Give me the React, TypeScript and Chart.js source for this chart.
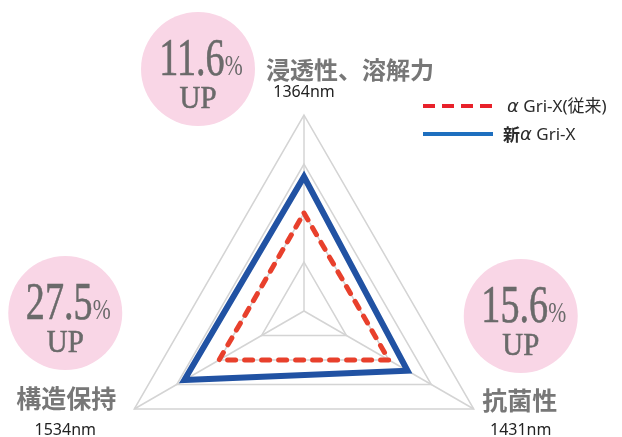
import React, { useEffect, useRef } from "react";
import { Chart, registerables } from "chart.js";

Chart.register(...registerables);

// ---- data ----
const categories = ["浸透性、溶解力", "抗菌性", "構造保持"];
const wavelengths = ["1364nm", "1431nm", "1534nm"];
const improvements = ["11.6", "15.6", "27.5"];
const seriesLabels = ["α Gri-X(従来)", "新α Gri-X"];
const conventional = [100, 100, 100];
const improved = [137, 122, 141];
const scaleMin = 0;
const scaleMax = 200;
const scaleStep = 50;

// ---- layout (offsets relative to each outer vertex) ----
const labelOffsets = [
  { circle: [-106, -46], cat: [46, -36], nm: [0, -18], catSize: 24 },
  { circle: [47, -93], cat: [46, 1], nm: [47, 26], catSize: 25 },
  { circle: [-69, -96], cat: [-68, -1], nm: [-69, 26], catSize: 25 },
];

const GRAY = "#6a6a6a";
const PINK = "#f9d6e6";
const RED = "#e8402c";
const BLUE = "#2152a3";

const overlayPlugin = {
  id: "overlay",
  afterDraw(chart: any) {
    const ctx = chart.ctx as CanvasRenderingContext2D;
    const scale = chart.scales.r;
    categories.forEach((cat, i) => {
      const p = scale.getPointPositionForValue(i, scaleMax);
      const o = labelOffsets[i];
      const cx = p.x + o.circle[0];
      const cy = p.y + o.circle[1];
      ctx.save();
      ctx.fillStyle = PINK;
      ctx.beginPath();
      ctx.arc(cx, cy, 57, 0, Math.PI * 2);
      ctx.fill();
      // percentage
      const sx = 0.72;
      ctx.fillStyle = GRAY;
      ctx.strokeStyle = GRAY;
      ctx.lineWidth = 0.6;
      ctx.textBaseline = "alphabetic";
      ctx.textAlign = "left";
      ctx.font = "53px 'Liberation Serif'";
      const dw = ctx.measureText(improvements[i]).width * sx;
      ctx.font = "30px 'Liberation Serif'";
      const pw = ctx.measureText("%").width * sx;
      const startX = cx + 3 - (dw + pw) / 2;
      ctx.save();
      ctx.translate(startX, cy + 6);
      ctx.scale(sx, 1);
      ctx.font = "53px 'Liberation Serif'";
      ctx.fillText(improvements[i], 0, 0);
      ctx.strokeText(improvements[i], 0, 0);
      ctx.font = "30px 'Liberation Serif'";
      ctx.fillText("%", dw / sx, 0);
      ctx.restore();
      // UP
      ctx.save();
      ctx.translate(cx, cy + 39);
      ctx.scale(0.9, 1);
      ctx.textAlign = "center";
      ctx.font = "32px 'Liberation Serif'";
      ctx.fillText("UP", 0, 0);
      ctx.strokeText("UP", 0, 0);
      ctx.restore();
      // category
      ctx.textAlign = "center";
      ctx.fillStyle = "#777";
      ctx.font = `bold ${o.catSize}px 'Noto Sans CJK JP'`;
      ctx.fillText(cat, p.x + o.cat[0], p.y + o.cat[1]);
      // wavelength
      ctx.fillStyle = "#222";
      ctx.font = "16px 'Noto Sans'";
      ctx.fillText(wavelengths[i], p.x + o.nm[0], p.y + o.nm[1]);
      ctx.restore();
    });

    // legend
    ctx.save();
    const lx0 = 423, lx1 = 493;
    const rows = [
      { y: 106, color: "#e8212a", dash: [12, 7], label: seriesLabels[0], x: 507 },
      { y: 134, color: "#1e6fbf", dash: [], label: seriesLabels[1], x: 503 },
    ];
    const baseFont = "17px 'Noto Sans', 'Noto Sans CJK JP'";
    rows.forEach((r) => {
      ctx.strokeStyle = r.color;
      ctx.lineWidth = 4;
      ctx.setLineDash(r.dash);
      ctx.beginPath();
      ctx.moveTo(lx0, r.y);
      ctx.lineTo(lx1, r.y);
      ctx.stroke();
      ctx.setLineDash([]);
      ctx.fillStyle = "#2a2a2a";
      ctx.textAlign = "left";
      ctx.textBaseline = "middle";
      const idx = r.label.indexOf("α");
      let x = r.x;
      const before = r.label.slice(0, idx);
      const after = r.label.slice(idx + 1);
      if (before) {
        ctx.font = "bold 17px 'Noto Sans CJK JP'";
        ctx.fillText(before, x, r.y + 1);
        x += ctx.measureText(before).width;
      }
      ctx.font = "italic 18px 'DejaVu Sans'";
      ctx.fillText("α", x, r.y + 1);
      x += ctx.measureText("α").width;
      ctx.font = baseFont;
      ctx.fillText(after, x, r.y + 1);
    });
    ctx.restore();
  },
};

export default function App() {
  const ref = useRef<HTMLCanvasElement>(null);
  useEffect(() => {
    if (!ref.current) return;
    const chart = new Chart(ref.current, {
      type: "radar",
      data: {
        labels: categories,
        datasets: [
          {
            label: seriesLabels[0],
            data: conventional,
            borderColor: RED,
            borderWidth: 5,
            borderDash: [8, 9],
            borderCapStyle: "round",
            borderJoinStyle: "round",
            fill: false,
            pointRadius: 0,
          },
          {
            label: seriesLabels[1],
            data: improved,
            borderColor: BLUE,
            borderWidth: 6,
            borderJoinStyle: "miter",
            fill: false,
            pointRadius: 0,
          },
        ],
      },
      options: {
        responsive: false,
        animation: false,
        plugins: { legend: { display: false }, tooltip: { enabled: false } },
        scales: {
          r: {
            min: scaleMin,
            max: scaleMax,
            ticks: { display: false, stepSize: scaleStep },
            grid: { color: "#d4d4d4", lineWidth: 1.5 },
            angleLines: { color: "#d4d4d4", lineWidth: 1.5 },
            pointLabels: { display: false },
            afterFit: (s: any) => {
              s.xCenter = 304;
              s.yCenter = 311;
              s.drawingArea = 196;
            },
          },
        },
      },
      plugins: [overlayPlugin],
    });
    return () => chart.destroy();
  }, []);
  return (
    <div style={{ position: "fixed", left: 0, top: 0, width: 622, height: 437, background: "#fff" }}>
      <canvas ref={ref} width={622} height={437} />
    </div>
  );
}
